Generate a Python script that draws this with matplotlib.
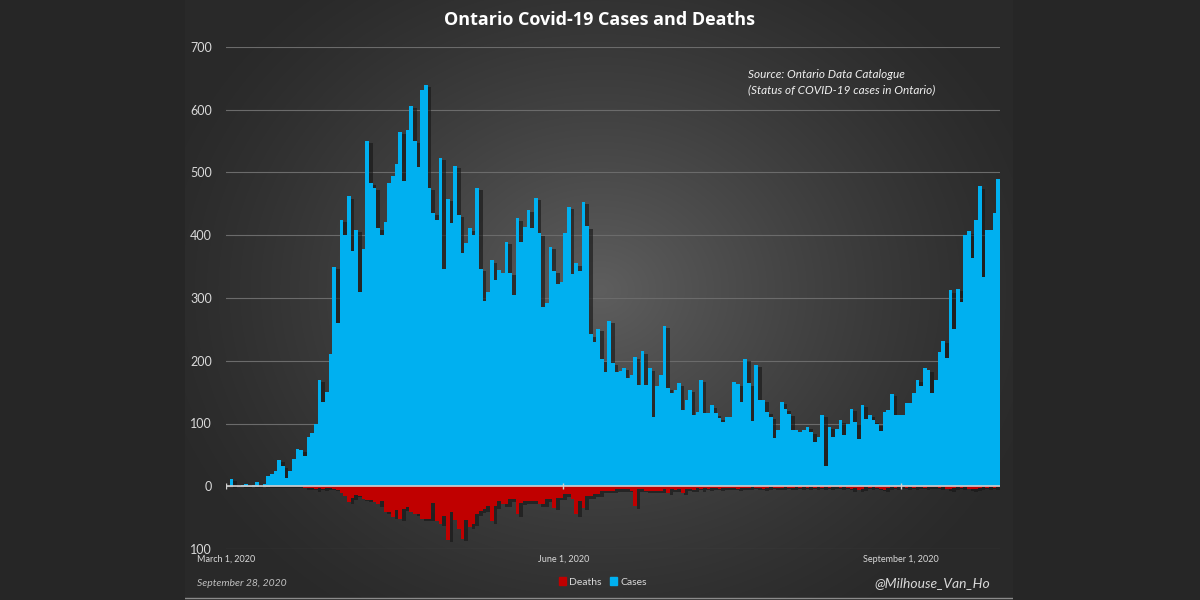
import numpy as np
import matplotlib
matplotlib.use("Agg")
import matplotlib.pyplot as plt
import matplotlib.patheffects as pe
from matplotlib.patches import Patch

# daily values from March 1 to September 27, 2020 (one per day)
cases = [
    0, 12, 1, 0, 2, 3, 1, 2, 6, 1,
    3, 17, 20, 25, 42, 32, 13, 25, 44, 59,
    58, 48, 78, 85, 100, 170, 135, 150, 210, 350,
    260, 425, 400, 462, 375, 408, 309, 378, 550, 483,
    475, 412, 400, 421, 483, 494, 514, 565, 486, 568,
    606, 550, 509, 631, 639, 475, 436, 424, 523, 347,
    458, 420, 510, 433, 371, 387, 411, 400, 475, 346,
    295, 309, 360, 328, 344, 340, 390, 340, 304, 427,
    389, 413, 440, 412, 459, 403, 286, 292, 382, 343,
    323, 326, 403, 445, 338, 355, 343, 453, 414, 242,
    230, 251, 202, 182, 264, 196, 182, 183, 189, 172,
    177, 206, 162, 215, 162, 188, 110, 159, 178, 256,
    157, 149, 153, 164, 121, 138, 154, 113, 119, 170,
    116, 116, 129, 116, 109, 102, 110, 110, 166, 163,
    135, 203, 164, 104, 194, 138, 138, 119, 110, 77,
    89, 134, 123, 115, 89, 90, 86, 90, 94, 87,
    70, 79, 114, 33, 94, 78, 91, 105, 81, 99,
    123, 102, 76, 130, 107, 114, 105, 99, 88, 118,
    122, 147, 113, 114, 113, 132, 132, 148, 169, 159,
    189, 185, 149, 170, 214, 232, 205, 312, 251, 315,
    294, 400, 406, 364, 424, 478, 334, 408, 408, 435,
    490,
]

deaths = [
    0, 0, 0, 0, 0, 0, 0, 0, 0, 0,
    0, 0, 0, 0, 0, 0, 0, 0, 0, 0,
    0, 2, 3, 2, 5, 3, 4, 3, 3, 4,
    6, 11, 16, 25, 18, 14, 15, 20, 22, 22,
    25, 29, 24, 41, 41, 49, 38, 52, 36, 33,
    41, 44, 44, 52, 52, 52, 26, 55, 60, 47,
    86, 41, 54, 68, 84, 54, 65, 60, 44, 39,
    37, 32, 56, 32, 24, 29, 29, 21, 21, 45,
    27, 24, 24, 24, 24, 29, 29, 21, 21, 35,
    19, 19, 13, 13, 21, 45, 24, 35, 16, 16,
    13, 13, 8, 8, 8, 8, 5, 5, 5, 5,
    8, 32, 5, 5, 8, 8, 8, 8, 8, 5,
    10, 5, 6, 5, 10, 4, 5, 6, 3, 5,
    3, 4, 3, 2, 4, 3, 2, 3, 2, 4,
    2, 3, 2, 1, 3, 2, 4, 2, 1, 3,
    2, 2, 1, 3, 2, 1, 2, 1, 2, 1,
    3, 1, 2, 1, 2, 1, 1, 2, 1, 3,
    5, 2, 6, 4, 1, 2, 1, 2, 4, 6,
    2, 1, 2, 1, 1, 2, 1, 2, 1, 1,
    2, 1, 1, 1, 2, 1, 4, 5, 3, 1,
    2, 1, 4, 5, 4, 2, 1, 2, 1, 2,
    1,
]

date_ticks = [0, 92, 184]
date_labels = ["March 1, 2020", "June 1, 2020", "September 1, 2020"]
y_ticks = [-100, 0, 100, 200, 300, 400, 500, 600, 700]

CASE_COLOR = "#00b0f0"
DEATH_COLOR = "#c00000"
TXT = "#d9d9d9"

fig = plt.figure(figsize=(12, 6), dpi=100, facecolor="#262626")

# radial gradient panel behind the chart
bg = fig.add_axes([185 / 1200, 0, 828 / 1200, 1])
h, w = 600, 828
yy, xx = np.mgrid[0:h, 0:w]
r = np.sqrt(((xx - 415) / 470.0) ** 2 + ((yy - 290) / 400.0) ** 2)
r = np.clip(r, 0, 1)
inner, outer = 0x5e / 255, 0x29 / 255
val = outer + (inner - outer) * (1 - r) ** 1.3
bg.imshow(np.dstack([val, val, val]), aspect="auto", extent=[0, 1, 0, 1])
bg.axhline(0.004, color="#8a8a8a", lw=1)
bg.axis("off")

ax = fig.add_axes([226 / 1200, 51 / 600, 774 / 1200, 502 / 600])
ax.set_facecolor("none")

x = np.arange(len(cases))
shadow = [pe.SimplePatchShadow(offset=(2.6, -1.6), shadow_rgbFace="#151515", alpha=0.6),
          pe.Normal()]
cb = ax.bar(x, cases, width=1.0, align="edge", color=CASE_COLOR, linewidth=0, zorder=2)
db = ax.bar(x, [-d for d in deaths], width=1.0, align="edge", color=DEATH_COLOR,
            linewidth=0, zorder=3)
for p in list(cb) + list(db):
    p.set_path_effects(shadow)

ax.axhline(0, color="#d0d0d0", lw=1.2, zorder=4)
ax.plot(date_ticks, [0] * len(date_ticks), ls="none", marker="|", ms=4,
        color="#d0d0d0", zorder=4)

ax.set_xlim(0, len(cases))
ax.set_ylim(-100, 700)
ax.set_yticks(y_ticks)
ax.set_yticklabels([str(abs(v)) for v in y_ticks])
ax.set_xticks(date_ticks)
ax.set_xticklabels(date_labels)
ax.yaxis.grid(True, color="#6b6b6b", lw=0.8)
ax.set_axisbelow(True)
for s in ax.spines.values():
    s.set_visible(False)
ax.tick_params(axis="y", length=0, pad=10, labelcolor=TXT, labelsize=9)
ax.tick_params(axis="x", length=0, pad=4, labelcolor=TXT, labelsize=6.5)
for lab in ax.get_xticklabels() + ax.get_yticklabels():
    lab.set_family("Lato")

fig.text(0.5, 1 - 20 / 600, "Ontario Covid-19 Cases and Deaths", ha="center", va="center",
         color="white", fontsize=13, fontweight="bold", family="Open Sans")
fig.text(748 / 1200, 1 - 75 / 600, "Source: Ontario Data Catalogue", va="center",
         color="#f0f0f0", fontsize=8.5, style="italic", family="Lato")
fig.text(748 / 1200, 1 - 90 / 600, "(Status of COVID-19 cases in Ontario)", va="center",
         color="#f0f0f0", fontsize=8.5, style="italic", family="Lato")
fig.text(197 / 1200, 1 - 583 / 600, "September 28, 2020", va="center",
         color="#bfbfbf", fontsize=7.5, style="italic", family="Lato")
fig.text(990 / 1200, 1 - 583 / 600, "@Milhouse_Van_Ho", ha="right", va="center",
         color=TXT, fontsize=10, style="italic", family="Lato")

handles = [Patch(color=DEATH_COLOR, label="Deaths"), Patch(color=CASE_COLOR, label="Cases")]
fig.legend(handles=handles, loc="center", bbox_to_anchor=(603 / 1200, 1 - 582 / 600),
           ncol=2, frameon=False, labelcolor=TXT, handlelength=0.7,
           handleheight=0.7, handletextpad=0.3, columnspacing=0.8,
           prop={"family": "Lato", "size": 7.5})

fig.savefig("out.png", dpi=100, facecolor=fig.get_facecolor())
